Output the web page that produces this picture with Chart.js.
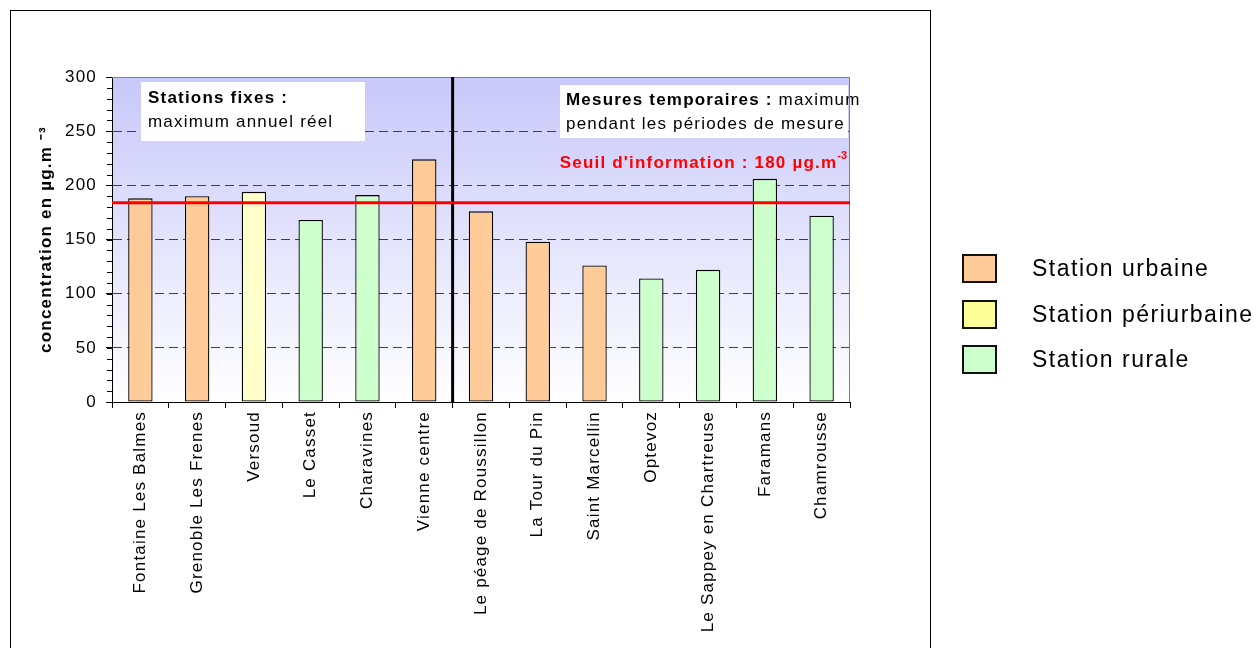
<!DOCTYPE html>
<html>
<head>
<meta charset="utf-8">
<script src="https://cdn.jsdelivr.net/npm/chart.js"></script>
<style>
  body { margin: 0; background: #fff; overflow: hidden; font-family: "Liberation Sans", Arial, sans-serif; }
  #frame { position: absolute; left: 10px; top: 10px; width: 919px; height: 700px; border: 1px solid #000; }
  #chart { position: absolute; left: 0; top: 0; }
  #legend { position: absolute; left: 962px; top: 246px; }
  .item { height: 45.5px; display: flex; align-items: center; }
  .sw { width: 31px; height: 25px; border: 2px solid #111; margin-right: 35px; }
  .lab { font-size: 23px; letter-spacing: 1.5px; color: #000; }
</style>
</head>
<body>
<div id="frame"></div>
<canvas id="chart" width="1256" height="648"></canvas>
<div id="legend"></div>
<script>
// stations (ordre du graphique)
var stations = ["Fontaine Les Balmes", "Grenoble Les Frenes", "Versoud", "Le Casset", "Charavines", "Vienne centre",
  "Le péage de Roussillon", "La Tour du Pin", "Saint Marcellin", "Optevoz", "Le Sappey en Chartreuse", "Faramans", "Chamrousse"];
// maximum horaire O3 (µg.m-3)
var maxValues = [188, 190, 194, 168, 191, 224, 176, 148, 126, 114, 122, 206, 172];
// type : 0 urbaine, 1 périurbaine, 2 rurale
var stationType = [0, 0, 1, 2, 2, 0, 0, 0, 0, 2, 2, 2, 2];
var typeLabels = ["Station urbaine", "Station périurbaine", "Station rurale"];
var barColors = ["#ffcc99", "#ffffcc", "#ccffcc"];
var legendColors = ["#ffcc99", "#ffff99", "#ccffcc"];
// seuil d'information (position de la ligne rouge)
var seuilLigne = 184;
// nb de stations fixes (avant la ligne noire)
var nbFixes = 6;
var yMax = 300, yStep = 50, yMinorStep = 10;

var font = '"Liberation Sans", Arial, sans-serif';
var spacing = '1.2px';

// légende
var leg = document.getElementById('legend');
typeLabels.forEach(function (t, i) {
  leg.innerHTML += '<div class="item"><div class="sw" style="background:' + legendColors[i] + '"></div><span class="lab">' + t + '</span></div>';
});

var decor = {
  id: 'decor',
  afterInit: function (chart) {
    chart.ctx.letterSpacing = spacing;
  },
  beforeDraw: function (chart) {
    var a = chart.chartArea, c = chart.ctx;
    c.letterSpacing = spacing;
    var g = c.createLinearGradient(0, a.top, 0, a.bottom);
    g.addColorStop(0, '#c8c8fa');
    g.addColorStop(1, '#ffffff');
    c.save();
    c.fillStyle = g;
    c.fillRect(a.left, a.top, a.right - a.left, a.bottom - a.top);
    c.restore();
  },
  beforeDatasetsDraw: function (chart) {
    var c = chart.ctx;
    c.save();
    c.fillStyle = '#fff';
    c.fillRect(141, 82, 224, 59);
    c.fillRect(560, 85, 288, 53);
    c.fillStyle = '#000';
    c.textAlign = 'left';
    c.textBaseline = 'alphabetic';
    c.font = 'bold 17px ' + font;
    c.fillText('Stations fixes :', 148, 103);
    c.font = '17px ' + font;
    c.fillText('maximum annuel réel', 148, 127);
    c.font = 'bold 17px ' + font;
    var t = 'Mesures temporaires :';
    c.fillText(t, 566, 105);
    var w = c.measureText(t).width;
    c.font = '17px ' + font;
    c.fillText(' maximum', 566 + w, 105);
    c.fillText('pendant les périodes de mesure', 566, 129);
    c.restore();
  },
  afterDatasetsDraw: function (chart) {
    var a = chart.chartArea, c = chart.ctx;
    var x = chart.scales.x, y = chart.scales.y;
    c.save();
    // cadre gris haut / droite
    c.strokeStyle = '#808080';
    c.lineWidth = 1;
    c.beginPath();
    c.moveTo(a.left, a.top + 0.5);
    c.lineTo(a.right - 0.5, a.top + 0.5);
    c.lineTo(a.right - 0.5, a.bottom);
    c.stroke();
    // graduations secondaires
    c.strokeStyle = '#000';
    c.beginPath();
    for (var v = 0; v <= yMax; v += yMinorStep) {
      var py = Math.round(y.getPixelForValue(v)) + 0.5;
      c.moveTo(a.left - 5, py);
      c.lineTo(a.left, py);
    }
    c.stroke();
    // séparation stations fixes / mesures temporaires
    var sx = (x.getPixelForValue(nbFixes - 1) + x.getPixelForValue(nbFixes)) / 2;
    c.lineWidth = 3;
    c.beginPath();
    c.moveTo(sx, a.top);
    c.lineTo(sx, a.bottom);
    c.stroke();
    // seuil d'information
    var ry = y.getPixelForValue(seuilLigne);
    c.strokeStyle = '#ff0000';
    c.lineWidth = 3;
    c.beginPath();
    c.moveTo(a.left, ry);
    c.lineTo(a.right, ry);
    c.stroke();
    c.fillStyle = '#ff0000';
    c.font = 'bold 11px ' + font;
    c.letterSpacing = '0px';
    var sup = '-3';
    var sw = c.measureText(sup).width;
    c.textAlign = 'right';
    c.fillText(sup, 847, 159);
    c.letterSpacing = spacing;
    c.font = 'bold 17px ' + font;
    c.fillText("Seuil d'information : 180 µg.m", 847 - sw, 168);
    c.restore();
  }
};

new Chart(document.getElementById('chart'), {
  type: 'bar',
  data: {
    labels: stations,
    datasets: [{
      data: maxValues,
      backgroundColor: stationType.map(function (t) { return barColors[t]; }),
      borderColor: '#000',
      borderWidth: 1.3,
      borderSkipped: false,
      barPercentage: 0.43,
      categoryPercentage: 1
    }]
  },
  options: {
    responsive: false,
    devicePixelRatio: 1,
    animation: false,
    layout: { padding: { left: 32, right: 406, top: 77, bottom: 6 } },
    plugins: { legend: { display: false }, tooltip: { enabled: false } },
    scales: {
      x: {
        afterFit: function (s) { s.height = 240; },
        grid: { drawOnChartArea: false, tickLength: 6, tickColor: '#000', offset: true },
        border: { color: '#000', width: 1 },
        ticks: { minRotation: 90, maxRotation: 90, autoSkip: false, color: '#000', font: { size: 17, family: font }, padding: 3 }
      },
      y: {
        min: 0,
        max: yMax,
        afterFit: function (s) { s.width = 80; },
        grid: {
          tickLength: 6,
          tickColor: '#000',
          color: function (ctx) { return (ctx.tick && ctx.tick.value > 0 && ctx.tick.value < yMax) ? '#404040' : 'rgba(0,0,0,0)'; }
        },
        border: { color: '#000', width: 1, dash: [9, 5] },
        ticks: { stepSize: yStep, color: '#000', font: { size: 17, family: font }, padding: 9 },
        title: { display: true, text: 'concentration en µg.m ⁻³', color: '#000', font: { size: 17, weight: 'bold', family: font }, padding: { top: 4, bottom: 12 } }
      }
    }
  },
  plugins: [decor]
});
</script>
</body>
</html>
